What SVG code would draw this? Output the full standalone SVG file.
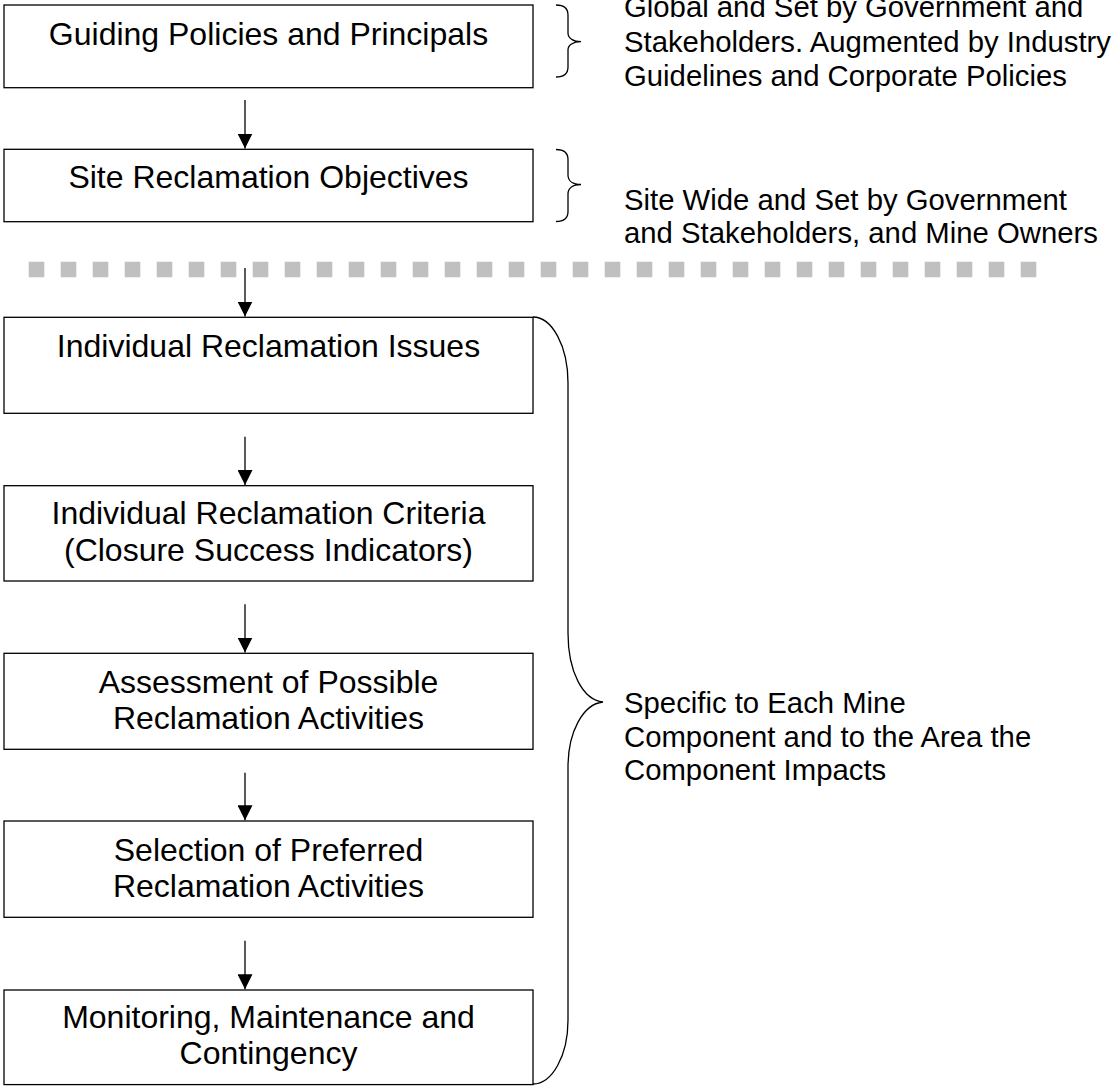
<svg xmlns="http://www.w3.org/2000/svg" width="1113" height="1086" viewBox="0 0 1113 1086">
<style>
  .box { fill: #ffffff; stroke: #000000; stroke-width: 1.3; }
  .bt { font-family: "Liberation Sans", Arial, sans-serif; font-size: 32px; fill: #000; text-anchor: middle; }
  .nt { font-family: "Liberation Sans", Arial, sans-serif; font-size: 29.3px; fill: #000; }
  .conn { stroke: #000; stroke-width: 1.3; fill: none; }
  .brace { stroke: #000; stroke-width: 1.3; fill: none; }
</style>
<defs>
  <marker id="ah" markerUnits="userSpaceOnUse" markerWidth="15" markerHeight="15" refX="15" refY="7.5" orient="auto">
    <path d="M0,0 L15,7.5 L0,15 z" fill="#000"/>
  </marker>
</defs>
<rect width="1113" height="1086" fill="#ffffff"/>

<g id="divider">
  <line x1="28.7" y1="269.5" x2="1037" y2="269.5" stroke="#c0c0c0" stroke-width="15.6" stroke-dasharray="15.6 16.4"/>
</g>

<g id="connectors">
  <line class="conn" x1="245" y1="100" x2="245" y2="148.5" marker-end="url(#ah)"/>
  <line class="conn" x1="245" y1="268" x2="245" y2="316.5" marker-end="url(#ah)"/>
  <line class="conn" x1="245" y1="436.7" x2="245" y2="485" marker-end="url(#ah)"/>
  <line class="conn" x1="245" y1="604.3" x2="245" y2="652.5" marker-end="url(#ah)"/>
  <line class="conn" x1="245" y1="772.7" x2="245" y2="820.3" marker-end="url(#ah)"/>
  <line class="conn" x1="245" y1="940.7" x2="245" y2="989.3" marker-end="url(#ah)"/>
</g>

<g id="n1">
  <rect class="box" x="4" y="5" width="529" height="82.7"/>
  <text class="bt" x="268.5" y="45">Guiding Policies and Principals</text>
</g>
<g id="n2">
  <rect class="box" x="4" y="149.3" width="529" height="72.4"/>
  <text class="bt" x="268.5" y="188">Site Reclamation Objectives</text>
</g>
<g id="n3">
  <rect class="box" x="4" y="317.3" width="529" height="96"/>
  <text class="bt" x="268.5" y="356.7">Individual Reclamation Issues</text>
</g>
<g id="n4">
  <rect class="box" x="4" y="485.7" width="529" height="95.3"/>
  <text class="bt" x="268.5" y="524.3">Individual Reclamation Criteria</text>
  <text class="bt" x="268.5" y="560.7">(Closure Success Indicators)</text>
</g>
<g id="n5">
  <rect class="box" x="4" y="653.3" width="529" height="96"/>
  <text class="bt" x="268.5" y="692.7">Assessment of Possible</text>
  <text class="bt" x="268.5" y="729">Reclamation Activities</text>
</g>
<g id="n6">
  <rect class="box" x="4" y="821" width="529" height="96.3"/>
  <text class="bt" x="268.5" y="861">Selection of Preferred</text>
  <text class="bt" x="268.5" y="897.3">Reclamation Activities</text>
</g>
<g id="n7">
  <rect class="box" x="4" y="990" width="529" height="94.6"/>
  <text class="bt" x="268.5" y="1028.3">Monitoring, Maintenance and</text>
  <text class="bt" x="268.5" y="1064">Contingency</text>
</g>

<g id="note1">
  <path class="brace" d="M556,5 C564,5 568,9 568,15 L568,33 C568,38 573,41.7 581,41.7 C573,41.7 568,45 568,50 L568,67 C568,74 564,77 556,77"/>
  <text class="nt" x="624" y="17.3">Global and Set by Government and</text>
  <text class="nt" x="624" y="51.7">Stakeholders. Augmented by Industry</text>
  <text class="nt" x="624" y="86">Guidelines and Corporate Policies</text>
</g>
<g id="note2">
  <path class="brace" d="M556,149.5 C564,149.5 568,153 568,159.5 L568,175 C568,181 573,184.5 581,184.5 C573,184.5 568,188 568,194 L568,211.5 C568,218 564,221.5 556,221.5"/>
  <text class="nt" x="624" y="209.5">Site Wide and Set by Government</text>
  <text class="nt" x="624" y="243">and Stakeholders, and Mine Owners</text>
</g>
<g id="note3">
  <path class="brace" d="M533,317 C552,317 568,346 568,383 L568,633 C568,672 583,700 603,702 C583,704 568,732 568,767 L568,1020 C568,1056 552,1084 533,1084"/>
  <text class="nt" x="624" y="713.3">Specific to Each Mine</text>
  <text class="nt" x="624" y="746.7">Component and to the Area the</text>
  <text class="nt" x="624" y="780">Component Impacts</text>
</g>
</svg>
